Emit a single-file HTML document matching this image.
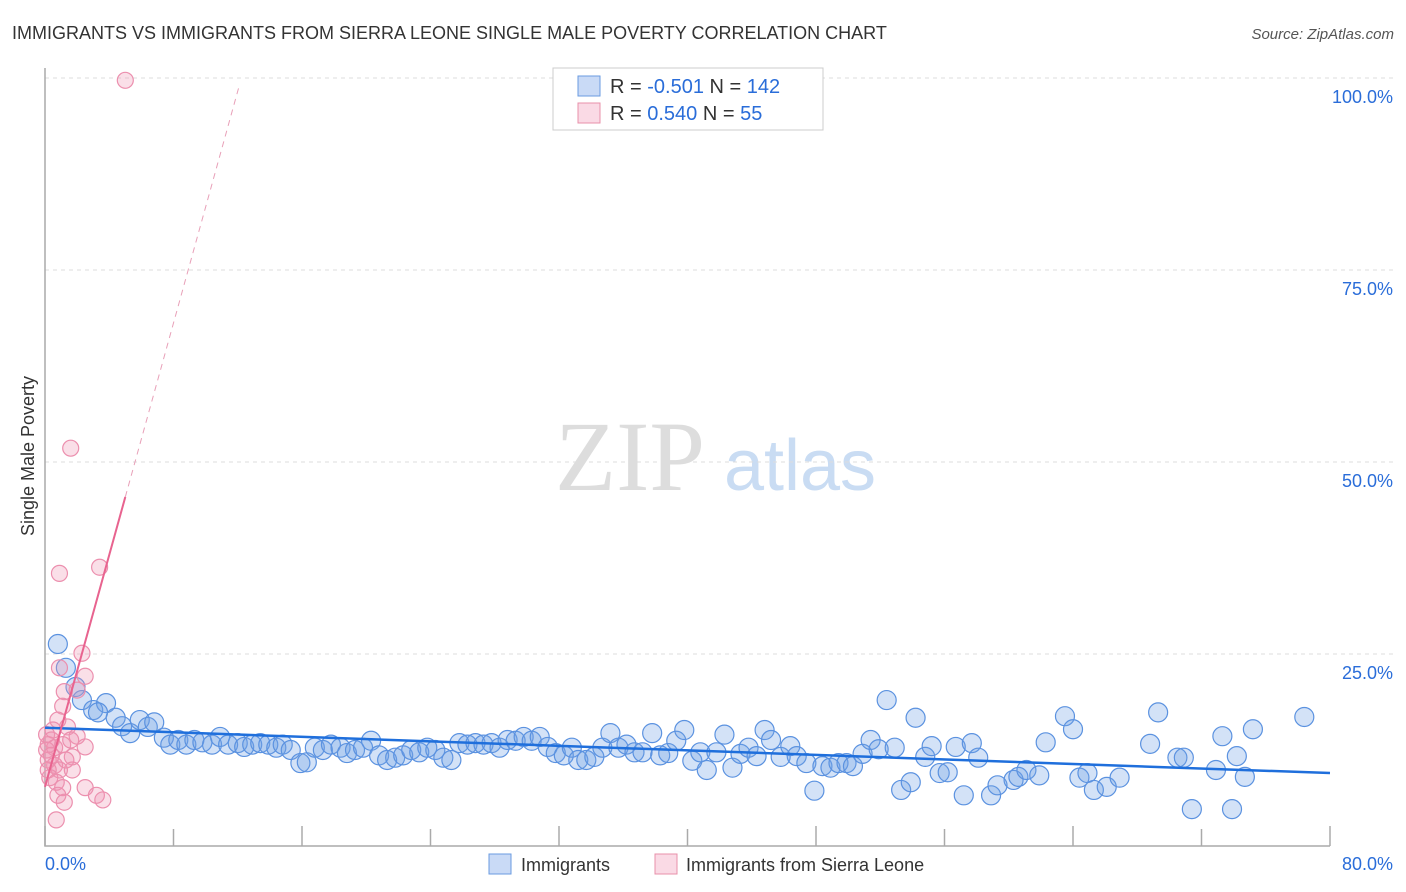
<!DOCTYPE html>
<html><head><meta charset="utf-8">
<style>
body{margin:0;background:#fff;font-family:"Liberation Sans",sans-serif;}
#wrap{position:relative;width:1406px;height:892px;overflow:hidden;}
</style></head>
<body>
<div id="wrap">
<svg id="chart" width="1406" height="892" xmlns="http://www.w3.org/2000/svg">
<text x="12" y="39" font-size="18" fill="#333">IMMIGRANTS VS IMMIGRANTS FROM SIERRA LEONE SINGLE MALE POVERTY CORRELATION CHART</text>
<text x="1394" y="39" font-size="15" fill="#555" font-style="italic" text-anchor="end">Source: ZipAtlas.com</text>
<text x="630" y="490" font-size="100" fill="#ddd" font-family="Liberation Serif,serif" text-anchor="middle">ZIP</text>
<text x="800" y="490" font-size="72" fill="#c9dcf3" text-anchor="middle">atlas</text>
<g id="grid"></g>
<g id="axes"></g>
<g id="pts"></g>
<g id="trend"></g>
<text transform="translate(34,456) rotate(-90)" font-size="18" fill="#333" text-anchor="middle">Single Male Poverty</text>
<g>
<rect x="553" y="68" width="270" height="62" fill="#fff" stroke="#ccc"/>
<rect x="578" y="76" width="22" height="20" fill="rgba(100,150,230,0.35)" stroke="#6a9be0"/>
<text x="610" y="93" font-size="20" fill="#333">R = <tspan fill="#2a6dd9">-0.501</tspan>   N = <tspan fill="#2a6dd9">142</tspan></text>
<rect x="578" y="103" width="22" height="20" fill="rgba(240,150,180,0.35)" stroke="#e890aa"/>
<text x="610" y="120" font-size="20" fill="#333">R =  <tspan fill="#2a6dd9">0.540</tspan>   N =  <tspan fill="#2a6dd9">55</tspan></text>
</g>
<g>
<rect x="489" y="854" width="22" height="20" fill="rgba(100,150,230,0.35)" stroke="#6a9be0"/>
<text x="521" y="871" font-size="18" fill="#333">Immigrants</text>
<rect x="655" y="854" width="22" height="20" fill="rgba(240,150,180,0.35)" stroke="#e890aa"/>
<text x="686" y="871" font-size="18" fill="#333">Immigrants from Sierra Leone</text>
</g>
</svg>
</div>
<script>
const blueX=[0.8,1.3,1.9,2.3,3.0,3.8,3.3,4.4,4.8,5.3,5.9,6.4,6.8,7.4,7.8,8.3,8.8,9.3,9.8,10.4,10.9,11.4,12.0,12.4,12.9,13.4,13.9,14.4,14.8,15.3,15.9,16.3,16.8,17.3,17.8,18.4,18.8,19.3,19.8,20.3,20.8,21.3,21.8,22.3,22.8,23.3,23.8,24.3,24.8,25.3,25.8,26.3,26.8,27.3,27.8,28.3,28.8,29.3,29.8,30.3,30.8,31.3,31.8,32.3,32.8,33.2,33.7,34.2,34.7,35.2,35.7,36.2,36.7,37.2,37.8,38.3,38.8,39.3,39.8,40.3,40.8,41.2,41.8,42.3,42.8,43.3,43.8,44.3,44.8,45.2,45.8,46.4,46.8,47.4,47.9,48.4,48.9,49.4,49.9,50.3,50.9,51.4,51.9,52.4,52.9,53.3,53.9,54.2,54.8,55.2,55.7,56.2,56.7,57.2,57.7,58.1,58.9,59.3,60.3,60.6,61.1,61.9,62.3,63.5,64.0,64.4,64.9,65.3,66.1,66.9,68.8,69.3,70.5,70.9,71.4,72.9,73.3,73.9,74.2,74.7,75.2,78.4];
const blueY=[26.3,23.2,20.7,19.0,17.7,18.6,17.4,16.7,15.6,14.7,16.4,15.5,16.1,14.1,13.2,13.8,13.2,13.8,13.5,13.2,14.2,13.2,13.4,12.9,13.2,13.4,13.2,12.8,13.2,12.5,10.8,10.9,12.8,12.5,13.2,12.8,12.1,12.5,12.8,13.7,11.8,11.2,11.5,11.8,12.5,12.2,12.8,12.5,11.5,11.2,13.4,13.2,13.4,13.2,13.4,12.8,13.8,13.7,14.2,13.7,14.2,12.9,12.1,11.8,12.8,11.2,11.2,11.6,12.8,14.7,12.8,13.2,12.2,12.2,14.7,11.8,12.1,13.7,15.1,11.1,12.2,9.9,12.2,14.5,10.2,12.0,12.8,11.7,15.1,13.8,11.6,13.0,11.7,10.8,7.2,10.4,10.2,10.8,10.8,10.4,12.0,13.8,12.6,19.0,12.8,7.3,8.3,16.7,11.6,13.0,9.5,9.6,12.9,6.6,13.4,11.5,6.6,7.9,8.6,9.0,9.9,9.2,13.5,16.9,15.2,8.9,9.5,7.3,7.7,8.9,13.3,17.4,11.5,11.5,4.8,9.9,14.3,4.8,11.7,9.0,15.2,16.8];
const pinkX=[5.0,1.6,0.9,3.4,2.3,0.9,2.5,2.0,1.2,1.1,0.8,1.4,2.0,0.4,0.6,0.2,1.1,1.6,2.5,1.7,0.2,0.6,0.9,0.3,0.7,1.1,1.7,2.5,3.2,3.6,1.2,0.8,0.7,0.1,0.4,0.1,0.5,1.3,0.2];
const pinkY=[99.7,51.8,35.5,36.3,25.1,23.2,22.1,20.3,20.1,18.2,16.4,15.5,14.3,13.8,12.8,13.2,13.2,13.8,12.9,11.6,11.2,10.5,9.9,8.9,8.3,7.6,9.9,7.6,6.6,6.0,5.7,6.6,3.4,12.5,11.8,14.5,15.1,11.2,9.9];
const blueTrend=[15.4,9.5];
const pinkTrend=[7.7,7.55];
const yTicks=[25,50,75,100];
const yTickLabels=["25.0%","50.0%","75.0%","100.0%"];
const xTicks=[0,8,16,24,32,40,48,56,64,72,80];
const NS="http://www.w3.org/2000/svg";
const X=v=>45+v*(1285/80);
const Y=v=>846-v*7.68;
function mk(parent,tag,attrs){const e=document.createElementNS(NS,tag);for(const k in attrs)e.setAttribute(k,attrs[k]);document.getElementById(parent).appendChild(e);return e;}
yTicks.forEach((t,i)=>{
 const l=mk('grid','line',{x1:45,x2:1395,y1:Y(t),y2:Y(t),stroke:'#ddd','stroke-dasharray':'4,4'});
 
 
 const tx=mk('axes','text',{x:1393,y:Y(t)+25,'font-size':18,fill:'#2a6dd9','text-anchor':'end'});
 tx.textContent=yTickLabels[i];
 
 
});
const ax=mk('axes','path',{d:'M45,68V846H1330',stroke:'#aaa',fill:'none','stroke-width':1.5});


xTicks.forEach((t,i)=>{
 const l=mk('axes','line',{x1:X(t),x2:X(t),y1:i%2?829:826,y2:846,stroke:'#aaa','stroke-width':1.5});
 
 
});
const xl0=mk('axes','text',{x:45,y:870,'font-size':18,fill:'#2a6dd9'});xl0.textContent='0.0%';


const xl1=mk('axes','text',{x:1393,y:870,'font-size':18,fill:'#2a6dd9','text-anchor':'end'});xl1.textContent='80.0%';


blueX.forEach((v,i)=>{
 const c=mk('pts','circle',{cx:X(v),cy:Y(blueY[i]),r:9.5,fill:'rgba(110,160,230,0.3)',stroke:'#5b92e0','stroke-width':1.2});
 
 
});
pinkX.forEach((v,i)=>{
 const c=mk('pts','circle',{cx:X(v),cy:Y(pinkY[i]),r:8,fill:'rgba(240,150,180,0.3)',stroke:'#ec8fae','stroke-width':1.2});
 
 
});
const bt=mk('trend','line',{x1:X(0),y1:Y(blueTrend[0]),x2:X(80),y2:Y(blueTrend[1]),stroke:'#1f6fdc','stroke-width':2.5});


const pe=5.0, pd=12.1;
const pt=mk('trend','line',{x1:X(0),y1:Y(pinkTrend[0]),x2:X(pe),y2:Y(pinkTrend[0]+pinkTrend[1]*pe),stroke:'#e8638f','stroke-width':2});


const pdl=mk('trend','line',{x1:X(pe),y1:Y(pinkTrend[0]+pinkTrend[1]*pe),x2:X(pd),y2:Y(pinkTrend[0]+pinkTrend[1]*pd),stroke:'#e8a0b8','stroke-width':1,'stroke-dasharray':'6,5'});


</script>
</body></html>
